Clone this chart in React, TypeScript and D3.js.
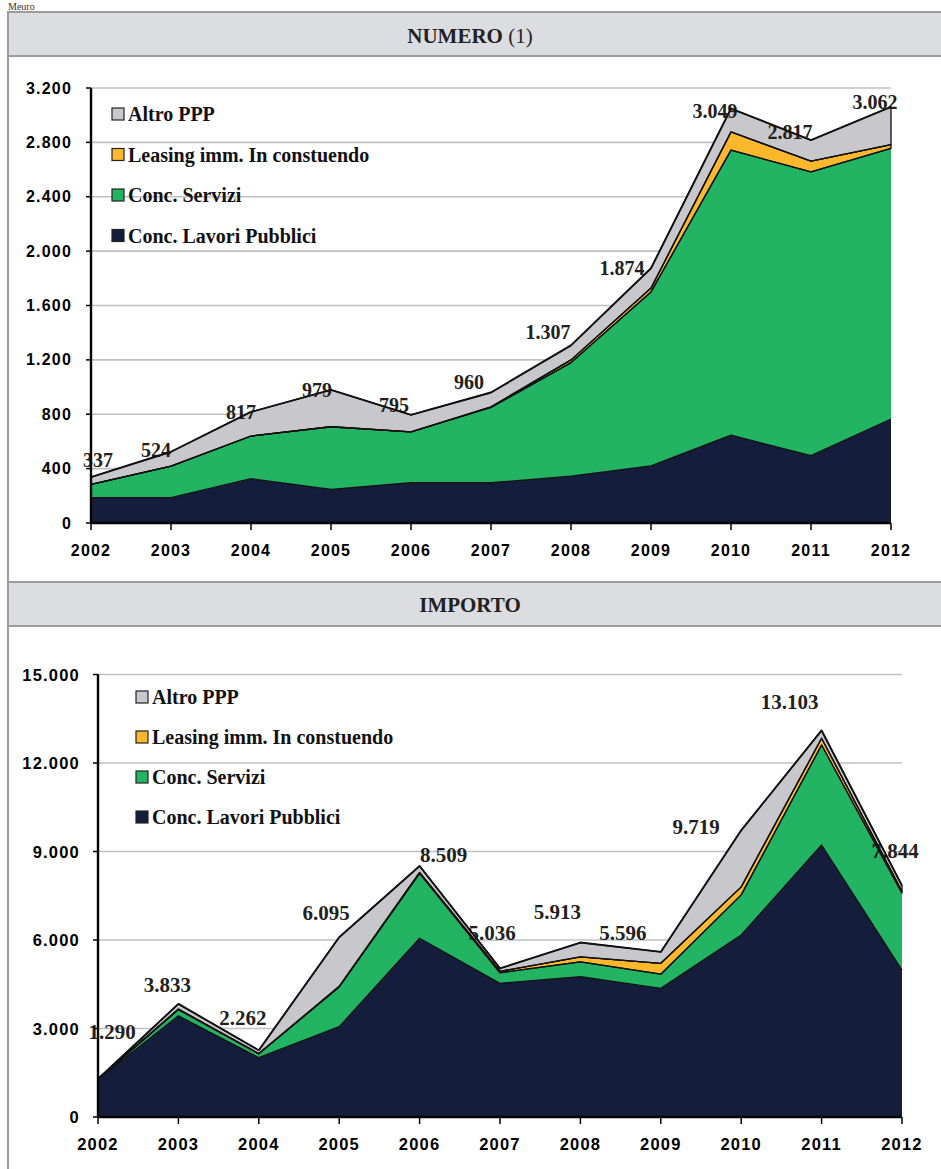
import React from 'react';
import * as d3 from 'd3';

// ---------- DATA ----------
const years = ['2002', '2003', '2004', '2005', '2006', '2007', '2008', '2009', '2010', '2011', '2012'];
const seriesNames = ['Conc. Lavori Pubblici', 'Conc. Servizi', 'Leasing imm. In constuendo', 'Altro PPP'];
const seriesColors = ['#141e3c', '#22b363', '#fbb82c', '#c8c8cc'];

// NUMERO
const numeroLavori = [186, 186, 326, 248, 296, 296, 345, 421, 647, 495, 765];
const numeroServizi = [98, 233, 314, 460, 375, 554, 835, 1279, 2096, 2088, 1990];
const numeroLeasing = [0, 0, 0, 0, 0, 5, 20, 28, 134, 79, 29];
const numeroAltro = [53, 105, 177, 271, 124, 105, 107, 146, 172, 155, 278];
const numeroTotals = [337, 524, 817, 979, 795, 960, 1307, 1874, 3049, 2817, 3062];
const numeroTicks = [0, 400, 800, 1200, 1600, 2000, 2400, 2800, 3200];

// IMPORTO
const importoLavori = [1290, 3430, 2010, 3060, 6060, 4530, 4760, 4360, 6170, 9220, 4980];
const importoServizi = [0, 210, 130, 1350, 2200, 360, 500, 480, 1360, 3390, 2610];
const importoLeasing = [0, 20, 10, 20, 30, 50, 170, 370, 270, 230, 60];
const importoAltro = [0, 173, 112, 1665, 219, 96, 483, 386, 1919, 263, 194];
const importoTotals = [1290, 3833, 2262, 6095, 8509, 5036, 5913, 5596, 9719, 13103, 7844];
const importoTicks = [0, 3000, 6000, 9000, 12000, 15000];

// label nudges (px, relative to the total point)
const numeroLabelNudge = [[7, -17], [-15, -2], [-10, 0], [-14, 0], [-17, -10], [-22, -11], [-23, -13], [-29, 0], [-16, 2], [-21, -8], [-16, -5]];
const importoLabelNudge = [[14, -47], [-11, -19], [-16, -32], [-13, -24], [24, -11], [-8, -35], [-23, -31], [-38, -19], [-45, -3], [-32, -28], [-7, -35]];

const itLocale = d3.formatLocale({ decimal: ',', thousands: '.', grouping: [3], currency: ['€', ''] });
const fmt = itLocale.format(',d');

const SERIF = '"Liberation Serif", "Times New Roman", serif';
const SANS = '"Liberation Sans", Arial, sans-serif';

type ChartProps = {
  layers: number[][];
  totals: number[];
  ticks: number[];
  nudges: number[][];
  x0: number; x1: number; yTop: number; yBottom: number;
  tickEndX: number;
  legendX: number; legendY: number; legendStep: number;
  labelSize: number;
  tickSize: number;
};

function StackChart(p: ChartProps) {
  const x = d3.scalePoint<string>().domain(years).range([p.x0, p.x1]);
  const yMax = p.ticks[p.ticks.length - 1];
  const y = d3.scaleLinear().domain([0, yMax]).range([p.yBottom, p.yTop]);

  const rows = years.map((yr, i) => {
    const r: any = { year: yr };
    seriesNames.forEach((n, k) => (r[n] = p.layers[k][i]));
    return r;
  });
  const stacked = d3.stack<any>().keys(seriesNames)(rows);

  const area = d3.area<any>()
    .x((d: any, i: number) => x(years[i]) as number)
    .y0((d: any) => y(d[0]))
    .y1((d: any) => y(d[1]));
  const line = d3.line<any>()
    .x((d: any, i: number) => x(years[i]) as number)
    .y((d: any) => y(d[1]));

  const legendOrder = [3, 2, 1, 0];

  return (
    <g>
      {/* grid */}
      {p.ticks.filter((t) => t > 0).map((t) => (
        <line key={'g' + t} x1={p.x0} x2={p.x1} y1={y(t)} y2={y(t)} stroke="#bfc0c5" strokeWidth={1.6} />
      ))}
      {/* areas */}
      {stacked.map((s, k) => (
        <path key={'a' + k} d={area(s as any) || ''} fill={seriesColors[k]}
          stroke={k >= 2 ? '#111' : 'none'} strokeWidth={k >= 2 ? 1.3 : 0} strokeLinejoin="round" />
      ))}
      {/* labels */}
      {p.totals.map((t, i) => (
        <text key={'l' + i} x={(x(years[i]) as number) + p.nudges[i][0]} y={y(t) + p.nudges[i][1]}
          textAnchor="middle" dominantBaseline="central" fontFamily={SERIF} fontWeight="bold"
          fontSize={p.labelSize} fill="#231f20">{fmt(t)}</text>
      ))}
      {/* top lines */}
      {stacked.map((s, k) => (
        <path key={'ln' + k} d={line(s as any) || ''} fill="none" stroke="#111"
          strokeWidth={k === 3 ? 1.9 : 1.3} strokeLinejoin="round" />
      ))}
      {/* y axis */}
      <line x1={p.x0} x2={p.x0} y1={p.yTop} y2={p.yBottom} stroke="#000" strokeWidth={2.4} />
      {p.ticks.map((t) => (
        <g key={'yt' + t}>
          <line x1={p.x0 - 5} x2={p.x0} y1={y(t)} y2={y(t)} stroke="#000" strokeWidth={1.5} />
          <text x={p.tickEndX} y={y(t)} textAnchor="end" dominantBaseline="central"
            fontFamily={SANS} fontWeight="bold" fontSize={p.tickSize} letterSpacing={1.2} fill="#000">{fmt(t)}</text>
        </g>
      ))}
      {/* x axis */}
      <line x1={p.x0} x2={p.x1} y1={p.yBottom} y2={p.yBottom} stroke="#000" strokeWidth={2.6} />
      {years.map((yr) => (
        <g key={'xt' + yr}>
          <line x1={x(yr) as number} x2={x(yr) as number} y1={p.yBottom} y2={p.yBottom + 7} stroke="#000" strokeWidth={1.5} />
          <text x={x(yr) as number} y={p.yBottom + 27} textAnchor="middle" dominantBaseline="central"
            fontFamily={SANS} fontWeight="bold" fontSize={p.tickSize} letterSpacing={1.2} fill="#000">{yr}</text>
        </g>
      ))}
      {/* legend */}
      {legendOrder.map((k, j) => {
        const cy = p.legendY + j * p.legendStep;
        return (
          <g key={'lg' + k}>
            <rect x={p.legendX} y={cy - 6} width={12} height={12} fill={seriesColors[k]} stroke="#222" strokeWidth={1.2} />
            <text x={p.legendX + 16} y={cy} dominantBaseline="central" fontFamily={SERIF} fontWeight="bold"
              fontSize={20} fill="#111">{seriesNames[k]}</text>
          </g>
        );
      })}
    </g>
  );
}

export default function App() {
  const W = 941;
  const H = 1169;
  return (
    <svg width={W} height={H} style={{ position: 'absolute', left: 0, top: 0, background: '#fff' }}>
      <rect x={0} y={0} width={W} height={H} fill="#fff" />
      <text x={8} y={10} fontFamily={SERIF} fontSize={10} fill="#333">Meuro</text>

      {/* frame + headers */}
      <rect x={8} y={12} width={W} height={44} fill="#dcdde0" />
      <line x1={8} x2={W + 2} y1={12} y2={12} stroke="#9c9c9c" strokeWidth={2} />
      <line x1={8} x2={W + 2} y1={56} y2={56} stroke="#9c9c9c" strokeWidth={2} />
      <text x={470} y={36} textAnchor="middle" dominantBaseline="central" fontFamily={SERIF} fontSize={21} fill="#222">
        <tspan fontWeight="bold">NUMERO</tspan>
        <tspan fontWeight="normal"> (1)</tspan>
      </text>

      <rect x={8} y={582} width={W} height={44} fill="#dcdde0" />
      <line x1={8} x2={W + 2} y1={582} y2={582} stroke="#9c9c9c" strokeWidth={2} />
      <line x1={8} x2={W + 2} y1={626} y2={626} stroke="#9c9c9c" strokeWidth={2} />
      <text x={470} y={605} textAnchor="middle" dominantBaseline="central" fontFamily={SERIF} fontSize={21}
        fontWeight="bold" fill="#222">IMPORTO</text>

      <line x1={8} x2={8} y1={11} y2={H} stroke="#9c9c9c" strokeWidth={2} />

      <StackChart
        layers={[numeroLavori, numeroServizi, numeroLeasing, numeroAltro]}
        totals={numeroTotals}
        ticks={numeroTicks}
        nudges={numeroLabelNudge}
        x0={91} x1={891} yTop={88} yBottom={523}
        tickEndX={72}
        legendX={112} legendY={114} legendStep={40.5}
        labelSize={20}
        tickSize={16}
      />
      <StackChart
        layers={[importoLavori, importoServizi, importoLeasing, importoAltro]}
        totals={importoTotals}
        ticks={importoTicks}
        nudges={importoLabelNudge}
        x0={98} x1={902} yTop={674.5} yBottom={1117}
        tickEndX={80}
        legendX={136} legendY={697} legendStep={40}
        labelSize={21}
        tickSize={16.5}
      />
    </svg>
  );
}
